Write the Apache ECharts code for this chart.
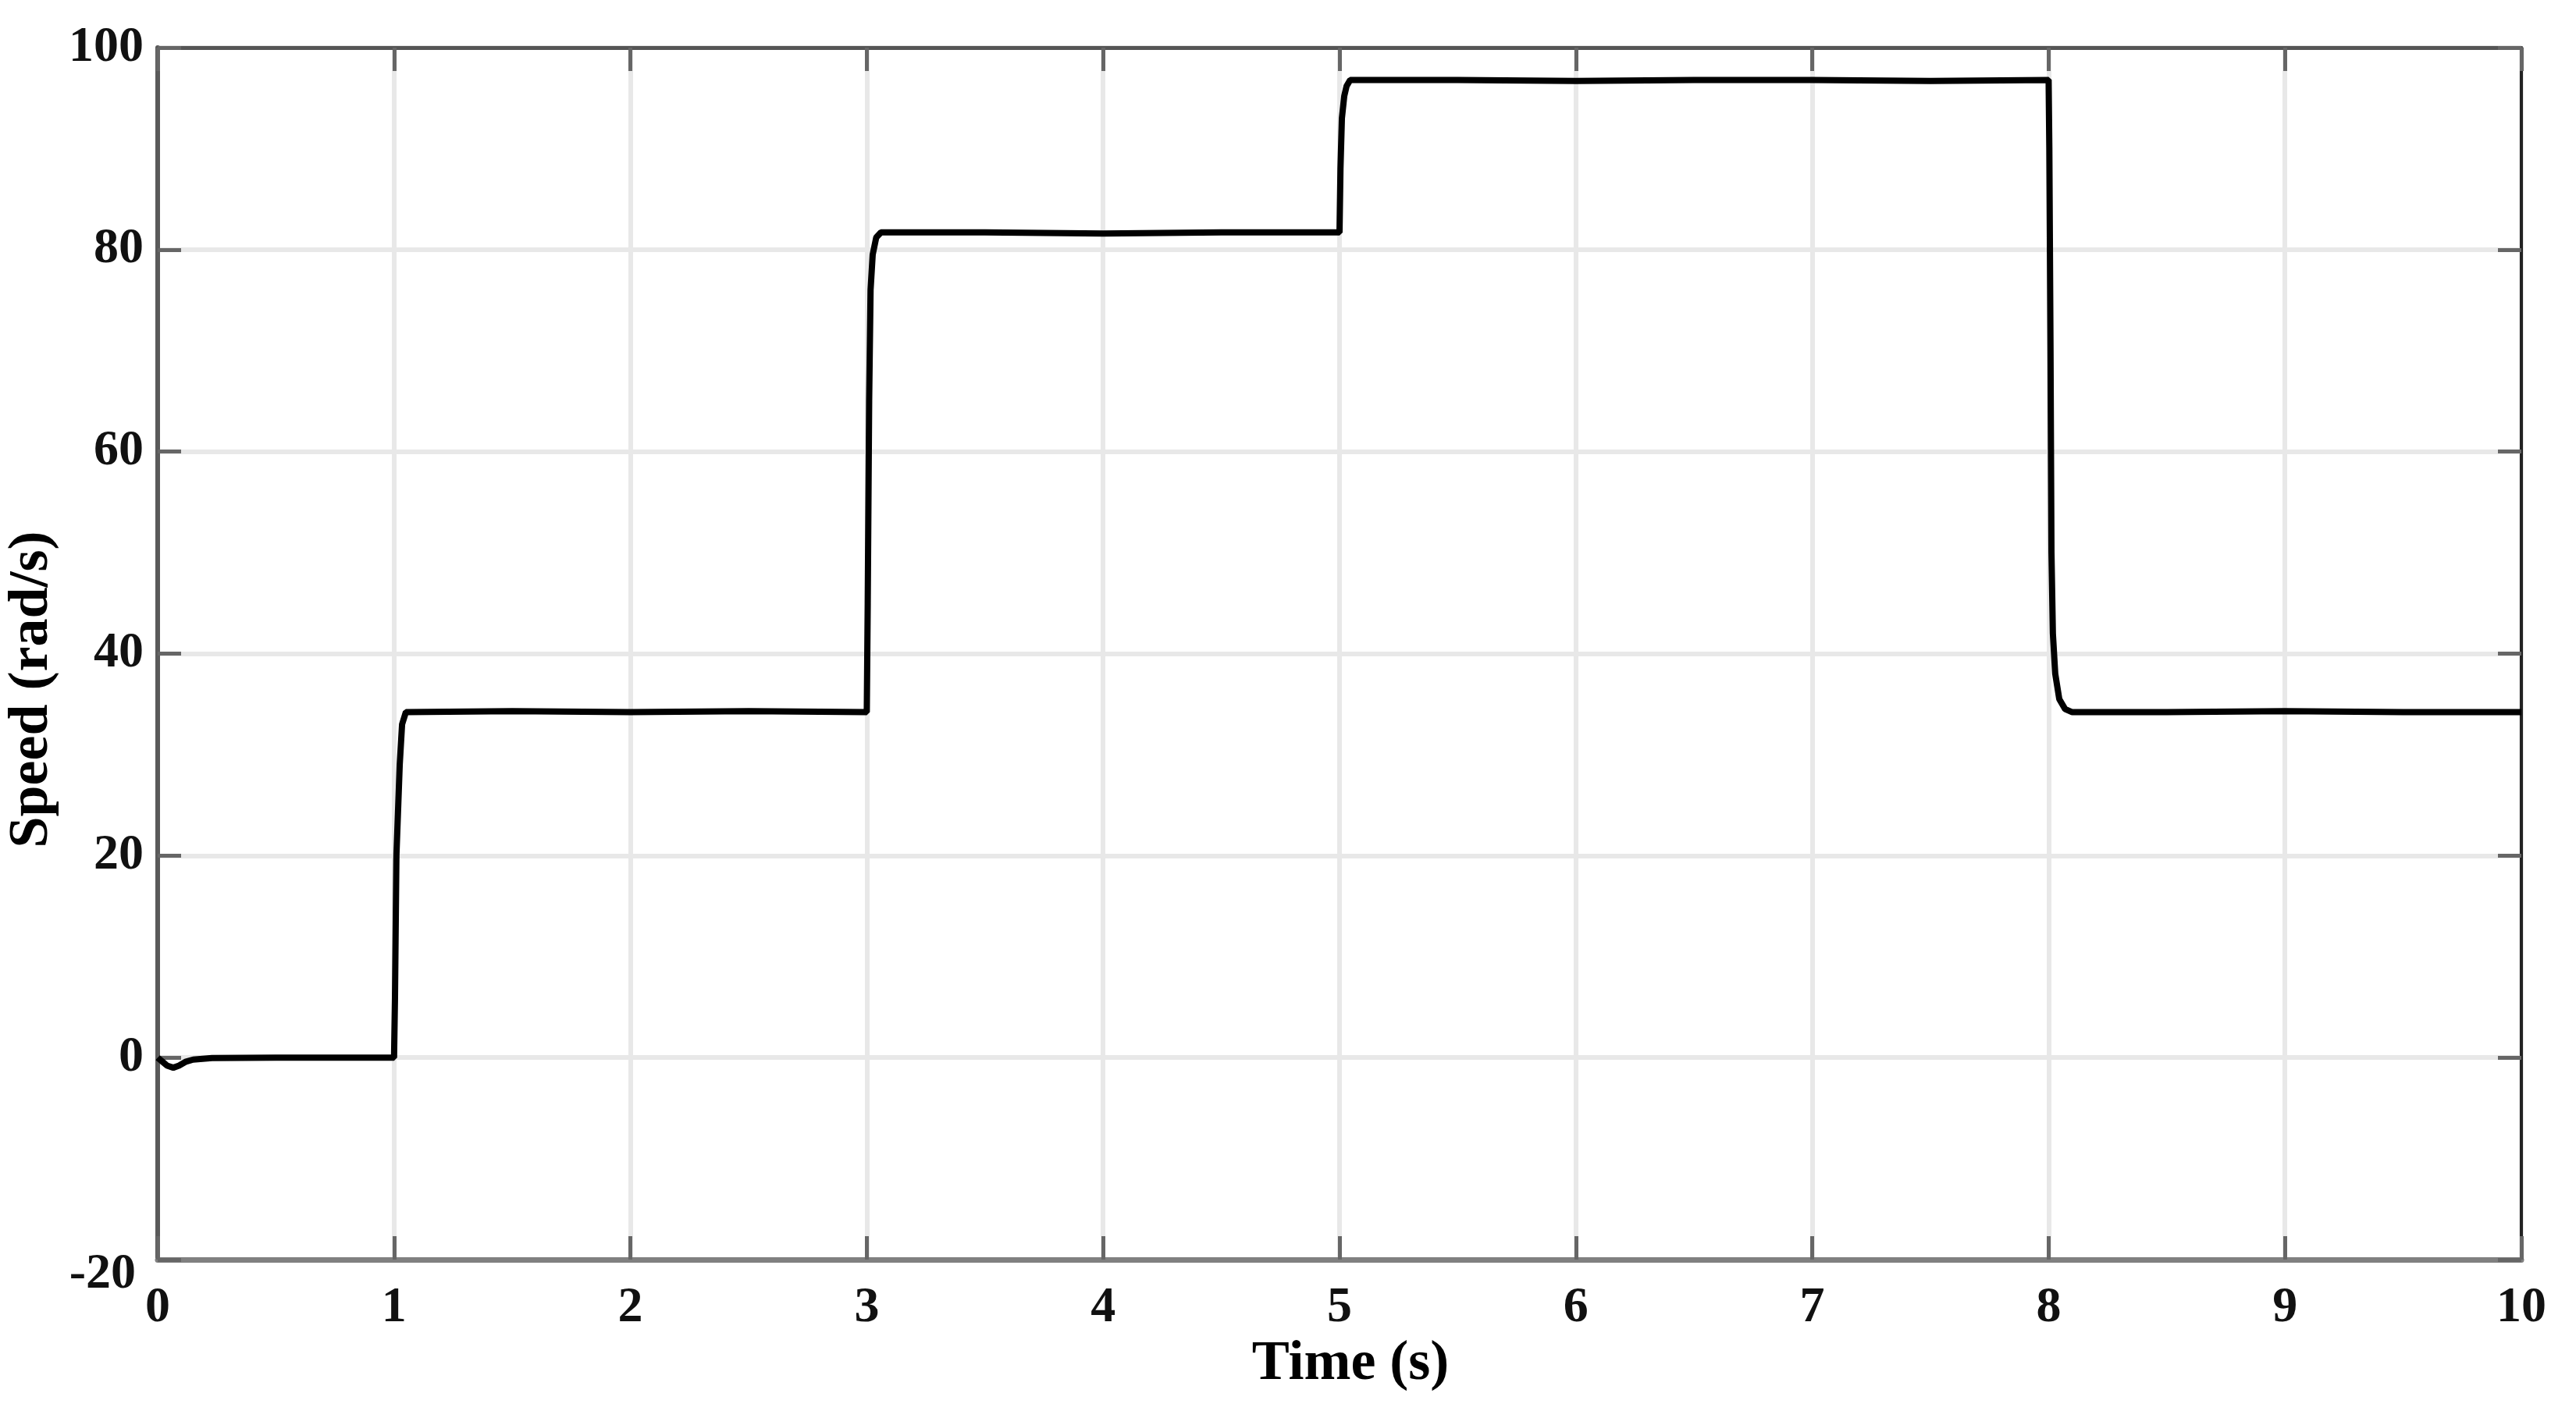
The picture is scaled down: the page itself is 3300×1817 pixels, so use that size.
<!DOCTYPE html>
<html>
<head>
<meta charset="utf-8">
<script src="https://cdn.jsdelivr.net/npm/echarts@6/dist/echarts.min.js"></script>
<style>
  html, body { margin: 0; padding: 0; background: #fff; }
  #chart { width: 3300px; height: 1817px; }
</style>
</head>
<body>
<div id="chart"></div>
<script>
const timeS = [
  0, 0.02, 0.04, 0.066, 0.09, 0.12, 0.15, 0.23, 0.5, 1.0,
  1.004, 1.01, 1.024, 1.034, 1.05, 1.5, 2.0, 2.5, 3.0,
  3.004, 3.01, 3.016, 3.025, 3.04, 3.06, 3.5, 4.0, 4.5, 5.0,
  5.004, 5.01, 5.02, 5.03, 5.045, 5.5, 6.0, 6.5, 7.0, 7.5, 8.0,
  8.003, 8.008, 8.012, 8.018, 8.028, 8.045, 8.07, 8.1, 8.5, 9.0, 9.5, 10
]
const speed = [
  0, -0.4, -0.8, -1.0, -0.8, -0.4, -0.2, -0.05, 0, 0,
  6, 20, 29, 33, 34.2, 34.3, 34.2, 34.3, 34.2,
  45, 65, 76, 79.5, 81.2, 81.7, 81.7, 81.6, 81.7, 81.7,
  88, 93, 95.2, 96.2, 96.8, 96.8, 96.7, 96.8, 96.8, 96.7, 96.8,
  90, 70, 50, 42, 38, 35.5, 34.5, 34.2, 34.2, 34.3, 34.2, 34.2
]

const xTicks = { min: 0, max: 10, interval: 1 }
const yTicks = { min: -20, max: 100, interval: 20 }

const labelFont = {
  fontFamily: 'Liberation Serif',
  fontWeight: 'bold',
  fontSize: 64,
  color: '#111'
}
const titleFont = {
  fontFamily: 'Liberation Serif',
  fontWeight: 'bold',
  fontSize: 72,
  color: '#000'
}

const tick = { show: true, inside: true, length: 30, lineStyle: { color: '#666', width: 5 } }

const chart = echarts.init(document.getElementById('chart'))

chart.setOption({
  backgroundColor: '#fff',
  animation: false,
  grid: { left: 202, right: 70, top: 61, bottom: 203, outerBoundsMode: 'none' },
  xAxis: [
    {
      type: 'value',
      position: 'bottom',
      ...xTicks,
      name: 'Time (s)',
      nameLocation: 'middle',
      nameGap: 92,
      nameTextStyle: { ...titleFont, padding: [0, 0, 0, 28] },
      axisLine: { show: true, onZero: false, lineStyle: { color: '#808080', width: 7 } },
      axisTick: tick,
      axisLabel: { ...labelFont, margin: 30 },
      splitLine: { show: true, lineStyle: { color: '#e8e8e8', width: 6 } }
    },
    {
      type: 'value',
      position: 'top',
      ...xTicks,
      axisLine: { show: true, onZero: false, lineStyle: { color: '#555', width: 5 } },
      axisTick: tick,
      axisLabel: { show: false },
      splitLine: { show: false }
    }
  ],
  yAxis: [
    {
      type: 'value',
      position: 'left',
      ...yTicks,
      name: 'Speed (rad/s)',
      nameLocation: 'middle',
      nameGap: 98,
      nameRotate: 90,
      nameTextStyle: { ...titleFont, padding: [0, 92, 0, 0] },
      axisLine: { show: true, onZero: false, lineStyle: { color: '#5a5a5a', width: 6 } },
      axisTick: tick,
      axisLabel: {
        ...labelFont,
        margin: 18,
        // the -20 label sits a little lower in the original
        formatter: (v) => (v === -20 ? '{s|-20}' : String(v)),
        rich: { s: { ...labelFont, padding: [38, 10, 0, 0] } }
      },
      splitLine: { show: true, lineStyle: { color: '#e8e8e8', width: 6 } }
    },
    {
      type: 'value',
      position: 'right',
      ...yTicks,
      axisLine: { show: true, onZero: false, lineStyle: { color: '#222', width: 4 } },
      axisTick: tick,
      axisLabel: { show: false },
      splitLine: { show: false }
    }
  ],
  series: [
    {
      type: 'line',
      xAxisIndex: 0,
      yAxisIndex: 0,
      data: timeS.map((t, i) => [t, speed[i]]),
      showSymbol: false,
      lineStyle: { color: '#000', width: 8 },
      z: 5
    }
  ]
})
</script>
</body>
</html>
